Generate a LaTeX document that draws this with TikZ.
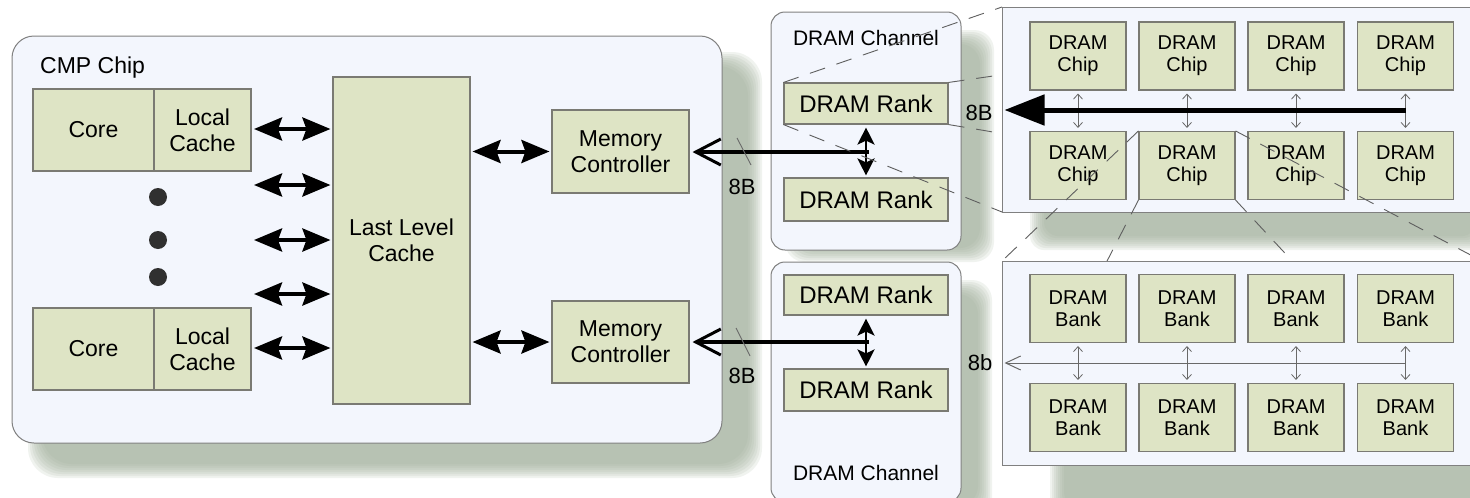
\documentclass[tikz,border=0pt]{standalone}
\usepackage{fontspec}
\setmainfont{Liberation Sans}
\usetikzlibrary{arrows.meta}

\definecolor{boxbg}{RGB}{243,246,253}
\definecolor{boxline}{RGB}{128,128,128}
\definecolor{compfill}{RGB}{222,228,197}
\definecolor{compline}{RGB}{122,122,115}
\definecolor{shcol}{RGB}{160,175,153}
\definecolor{dashcol}{RGB}{95,95,95}
\definecolor{thincol}{RGB}{105,105,105}
\definecolor{dotcol}{RGB}{48,48,48}

% soft drop shadow: stacked translucent rectangles shrinking inwards
\newcommand\softshadow[5]{%
  \foreach \k in {0,...,7}{%
    \fill[shcol,opacity=0.15,rounded corners=#5]
      ({#1+2*\k},{#2+2*\k}) rectangle ({#3-2*\k},{#4-2*\k});
  }}

\begin{document}
\begin{tikzpicture}[x=1pt,y=-1pt,
  container/.style={draw=boxline, fill=boxbg, line width=1pt, inner sep=0pt},
  comp/.style={draw=compline, fill=compfill, line width=1.1pt, inner sep=0pt,
    align=center, font=\fontsize{23}{26}\selectfont},
  rank/.style={comp, minimum width=164pt, font=\fontsize{24}{28}\selectfont},
  small/.style={comp, minimum width=96pt, minimum height=68pt,
    font=\fontsize{20}{22}\selectfont},
  lbl/.style={inner sep=0pt, font=\fontsize{22}{26}\selectfont},
  dot/.style={circle, fill=dotcol, inner sep=0pt, minimum size=18pt},
  bigdbl/.style={line width=4pt,
    {Stealth[length=28pt,width=23pt,inset=4pt]}-{Stealth[length=28pt,width=23pt,inset=4pt]}},
  meddbl/.style={line width=2.8pt,
    {Stealth[length=17pt,width=17pt,inset=4pt]}-{Stealth[length=17pt,width=17pt,inset=4pt]},
    shorten <=3pt, shorten >=2pt},
  busarrow/.style={line width=3.5pt,
    -{Straight Barb[length=25pt,width=26pt,line width=3pt]},
    shorten >=3pt},
  fatbus/.style={line width=5pt, -{Triangle[length=40pt,width=30pt]}, shorten >=3pt},
  thindbl/.style={draw=thincol, line width=0.8pt,
    {Straight Barb[length=5pt,width=9pt]}-{Straight Barb[length=5pt,width=9pt]},
    shorten <=3pt, shorten >=3pt},
  thinbus/.style={draw=thincol, line width=1pt,
    -{Straight Barb[length=15pt,width=14pt]}, shorten >=3pt},
  slash/.style={draw=thincol, line width=0.9pt},
  proj/.style={draw=dashcol, line width=0.9pt, dash pattern=on 16pt off 12pt}]

\useasboundingbox (0,0) rectangle (1470,498);
\clip (0,0) rectangle (1470,498);
\fill[white] (0,0) rectangle (1470,498);

% shadows
\softshadow{28}{52}{762}{478}{30pt}
\softshadow{785}{30}{994}{262}{20pt}
\softshadow{785}{280}{992}{520}{20pt}
\softshadow{1030}{30}{1490}{250}{14pt}
\softshadow{1050}{290}{1490}{520}{14pt}

% ---------------- CMP chip ----------------
\node[container, rounded corners=22pt, minimum width=710pt, minimum height=407pt]
  (cmp) at (367,239.5) {};
\node[lbl, anchor=base west, font=\fontsize{23}{27}\selectfont] (cmpt) at (40,73) {CMP Chip};

\node[comp, minimum width=121pt, minimum height=82pt] (core1) at (93.5,130) {Core};
\node[comp, minimum width=97pt, minimum height=82pt] (lc1) at (202.5,130) {Local\\Cache};
\node[comp, minimum width=121pt, minimum height=82pt] (core2) at (93.5,349) {Core};
\node[comp, minimum width=97pt, minimum height=82pt] (lc2) at (202.5,349) {Local\\Cache};

\node[dot] (d1) at (158,197) {};
\node[dot] (d2) at (158,240) {};
\node[dot] (d3) at (158,277) {};

\node[comp, minimum width=137pt, minimum height=327pt] (llc) at (401.5,240.5) {Last Level\\Cache};
\node[comp, minimum width=137pt, minimum height=83pt] (mc1) at (620.5,151.5) {Memory\\Controller};
\node[comp, minimum width=137pt, minimum height=82pt] (mc2) at (620.5,342) {Memory\\Controller};

\coordinate (p1) at (251,129);
\coordinate (p2) at (251,185);
\coordinate (p3) at (251,240);
\coordinate (p4) at (251,294);
\coordinate (p5) at (251,348);
\foreach \p in {p1,p2,p3,p4,p5}
  \draw[bigdbl, shorten <=3pt, shorten >=2pt] (\p) -- (llc.west |- \p);
\draw[bigdbl, shorten <=2pt, shorten >=2pt] (llc.east |- mc1.west) -- (mc1.west);
\draw[bigdbl, shorten <=2pt, shorten >=2pt] (llc.east |- mc2.west) -- (mc2.west);

% ---------------- DRAM channels ----------------
\node[container, rounded corners=14pt, minimum width=190pt, minimum height=238pt]
  (ch1) at (866,131) {};
\node[lbl, font=\fontsize{21}{25}\selectfont] (ch1t) at (866,38) {DRAM Channel};
\node[rank, minimum height=41pt] (r1a) at (866,103.5) {DRAM Rank};
\node[rank, minimum height=43pt] (r1b) at (866,199.5) {DRAM Rank};
\draw[meddbl] (r1a.south) -- (r1b.north);
\coordinate (j1) at (869,152);
\draw[busarrow] (j1) -- (mc1.east |- j1);
\draw[slash] (737,138) -- (751,165);
\node[lbl] (w1) at (742,187) {8B};

\node[container, rounded corners=14pt, minimum width=190pt, minimum height=240pt]
  (ch2) at (866,382) {};
\node[lbl, font=\fontsize{21}{25}\selectfont] (ch2t) at (866,473) {DRAM Channel};
\node[rank, minimum height=40pt] (r2a) at (866,295) {DRAM Rank};
\node[rank, minimum height=42pt] (r2b) at (866,390) {DRAM Rank};
\draw[meddbl] (r2a.south) -- (r2b.north);
\coordinate (j2) at (869,342);
\draw[busarrow] (j2) -- (mc2.east |- j2);
\draw[slash] (736,328) -- (750,356);
\node[lbl] (w2) at (742,376) {8B};

% rank expanded into its chips
\draw[proj] (r1a.north west) -- (1002,7);
\draw[proj] (r1a.south west) -- (1002,212);
\draw[proj] (r1a.north east) -- (1470,7);
\draw[proj] (r1a.south east) -- (1470,212);

% ---------------- DRAM chips of a rank ----------------
\node[container, minimum width=480pt, minimum height=205pt] (chipbox) at (1242,109.5) {};
\foreach \c/\x in {1/1078,2/1187,3/1296,4/1405.5}{
  \node[small] (ct\c) at (\x,56) {DRAM\\Chip};
  \node[small] (cb\c) at (\x,165.5) {DRAM\\Chip};
  \draw[thindbl] (ct\c.south) -- (cb\c.north);
}
\coordinate (cbus) at (1405.5,110);
\draw[fatbus] (cbus) -- (chipbox.west |- cbus);
\node[lbl] (w3) at (979,113) {8B};

% chip expanded into its banks
\draw[proj] (cb2.north west) -- (1002,261);
\draw[proj] (cb2.north east) -- (1482,261);
\draw[proj] (cb2.south west) -- (1002,465);
\draw[proj] (cb2.south east) -- (1482,465);

% ---------------- DRAM banks of a chip ----------------
\node[container, minimum width=480pt, minimum height=204pt] (bankbox) at (1242,363) {};
\foreach \c/\x in {1/1078,2/1187,3/1296,4/1405.5}{
  \node[small] (bt\c) at (\x,308.5) {DRAM\\Bank};
  \node[small] (bb\c) at (\x,417.5) {DRAM\\Bank};
  \draw[thindbl] (bt\c.south) -- (bb\c.north);
}
\coordinate (bbus) at (1405.5,363);
\draw[thinbus] (bbus) -- (bankbox.west |- bbus);
\node[lbl] (w4) at (980,363) {8b};

\end{tikzpicture}
\end{document}
